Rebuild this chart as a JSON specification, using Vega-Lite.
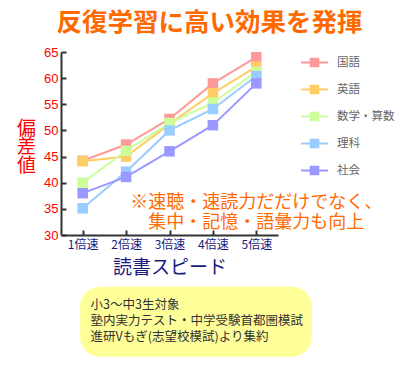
{
  "$schema": "https://vega.github.io/schema/vega-lite/v6.json",
  "width": 217,
  "height": 183,
  "autosize": "none",
  "padding": {"left": 61, "top": 52, "right": 122, "bottom": 139},
  "background": "white",
  "config": {"view": {"stroke": null}, "font": "Noto Sans CJK JP"},
  "title": {
    "text": "反復学習に高い効果を発揮",
    "fontSize": 25.5,
    "fontWeight": "bold",
    "color": "#FF6A00",
    "font": "Noto Sans CJK JP",
    "anchor": "middle",
    "frame": "group",
    "dx": 40,
    "offset": 10
  },
  "datasets": {
    "scores": [
      {"speed": 1, "subject": "国語", "value": 44.2},
      {"speed": 2, "subject": "国語", "value": 47.3},
      {"speed": 3, "subject": "国語", "value": 52.2},
      {"speed": 4, "subject": "国語", "value": 59},
      {"speed": 5, "subject": "国語", "value": 64},
      {"speed": 1, "subject": "英語", "value": 44.1},
      {"speed": 2, "subject": "英語", "value": 45},
      {"speed": 3, "subject": "英語", "value": 51.2},
      {"speed": 4, "subject": "英語", "value": 57.1},
      {"speed": 5, "subject": "英語", "value": 62.2},
      {"speed": 1, "subject": "数学・算数", "value": 40},
      {"speed": 2, "subject": "数学・算数", "value": 46.1},
      {"speed": 3, "subject": "数学・算数", "value": 51.4},
      {"speed": 4, "subject": "数学・算数", "value": 55.3},
      {"speed": 5, "subject": "数学・算数", "value": 61.2},
      {"speed": 1, "subject": "理科", "value": 35.1},
      {"speed": 2, "subject": "理科", "value": 42.1},
      {"speed": 3, "subject": "理科", "value": 50},
      {"speed": 4, "subject": "理科", "value": 54.1},
      {"speed": 5, "subject": "理科", "value": 60.4},
      {"speed": 1, "subject": "社会", "value": 38},
      {"speed": 2, "subject": "社会", "value": 41.1},
      {"speed": 3, "subject": "社会", "value": 46},
      {"speed": 4, "subject": "社会", "value": 51},
      {"speed": 5, "subject": "社会", "value": 59}
    ],
    "note": [{"text": "※速聴・速読力だだけでなく、\n集中・記憶・語彙力も向上"}],
    "source": [{"text": "小3〜中3生対象\n塾内実力テスト・中学受験首都圏模試\n進研Vもぎ(志望校模試)より集約"}]
  },
  "layer": [
    {
      "data": {"name": "scores"},
      "encoding": {
        "x": {
          "field": "speed", "type": "quantitative",
          "scale": {"domain": [0.5, 5.5], "nice": false, "zero": false},
          "axis": {
            "values": [1, 2, 3, 4, 5],
            "labelExpr": "datum.value + '倍速'",
            "labelOverlap": false,
            "grid": false,
            "domainColor": "#333333", "domainWidth": 2,
            "tickColor": "#333333", "tickWidth": 2, "tickSize": -5,
            "labelColor": "#1a1a80", "labelFontSize": 12, "labelFont": "Noto Sans CJK JP", "labelPadding": 9,
            "title": "読書スピード", "titleColor": "#1a1a80", "titleFontSize": 19, "titleFontWeight": "normal",
            "titleFont": "Noto Sans CJK JP", "titlePadding": 8
          }
        },
        "y": {
          "field": "value", "type": "quantitative",
          "scale": {"domain": [30, 65], "nice": false, "zero": false},
          "axis": {
            "values": [30, 35, 40, 45, 50, 55, 60, 65],
            "tickCount": 8,
            "labelOverlap": false,
            "grid": false,
            "domainColor": "#333333", "domainWidth": 2,
            "tickColor": "#333333", "tickWidth": 2, "tickSize": -5,
            "labelColor": "#FF0000", "labelFontSize": 13, "labelFont": "Liberation Sans", "labelPadding": 8,
            "title": ["偏", "差", "値"], "titleColor": "#FF0000", "titleFontSize": 19, "titleFontWeight": "normal",
            "titleFont": "Noto Sans CJK JP", "titleAngle": 0, "titleAlign": "center", "titleBaseline": "top",
            "titleX": -35, "titleY": 67, "titleLineHeight": 18.5
          }
        },
        "color": {
          "field": "subject", "type": "nominal",
          "scale": {
            "domain": ["国語", "英語", "数学・算数", "理科", "社会"],
            "range": ["#FF9999", "#FFCC66", "#CCFF99", "#99CCFF", "#9999FF"]
          },
          "legend": {
            "orient": "none", "legendX": 239, "legendY": -4, "padding": 0,
            "title": null,
            "symbolType": "M-1,0H1M-0.28,-0.28H0.28V0.28H-0.28Z",
            "symbolSize": 729, "symbolStrokeWidth": 2,
            "labelColor": "#666666", "labelFontSize": 11.5, "labelFont": "Noto Sans CJK JP", "labelOffset": 8,
            "rowPadding": 4,
            "encode": {"symbols": {"update": {"stroke": {"scale": "color", "field": "value"}, "fill": {"scale": "color", "field": "value"}, "opacity": {"value": 1}}}}
          }
        }
      },
      "layer": [
        {"mark": {"type": "line", "strokeWidth": 2}},
        {"mark": {"type": "point", "shape": "square", "filled": true, "size": 110, "opacity": 1}}
      ]
    },
    {
      "data": {"name": "source"},
      "mark": {"type": "rect", "color": "#FFFF99", "cornerRadius": 20},
      "encoding": {
        "x": {"datum": 0.94},
        "x2": {"datum": 6.28},
        "y": {"datum": 20.1},
        "y2": {"datum": 6.73}
      }
    },
    {
      "data": {"name": "source"},
      "mark": {"type": "text", "align": "left", "baseline": "middle", "lineBreak": "\n", "lineHeight": 16, "fontSize": 12.5, "color": "#333333", "font": "Noto Sans CJK JP"},
      "encoding": {
        "x": {"datum": 1.18},
        "y": {"datum": 16.6},
        "text": {"field": "text"}
      }
    },
    {
      "data": {"name": "note"},
      "mark": {"type": "text", "align": "center", "baseline": "middle", "lineBreak": "\n", "lineHeight": 20, "fontSize": 18, "color": "#FF6A00", "font": "Noto Sans CJK JP"},
      "encoding": {
        "x": {"datum": 5.0},
        "y": {"datum": 36.15},
        "text": {"field": "text"}
      }
    }
  ]
}
